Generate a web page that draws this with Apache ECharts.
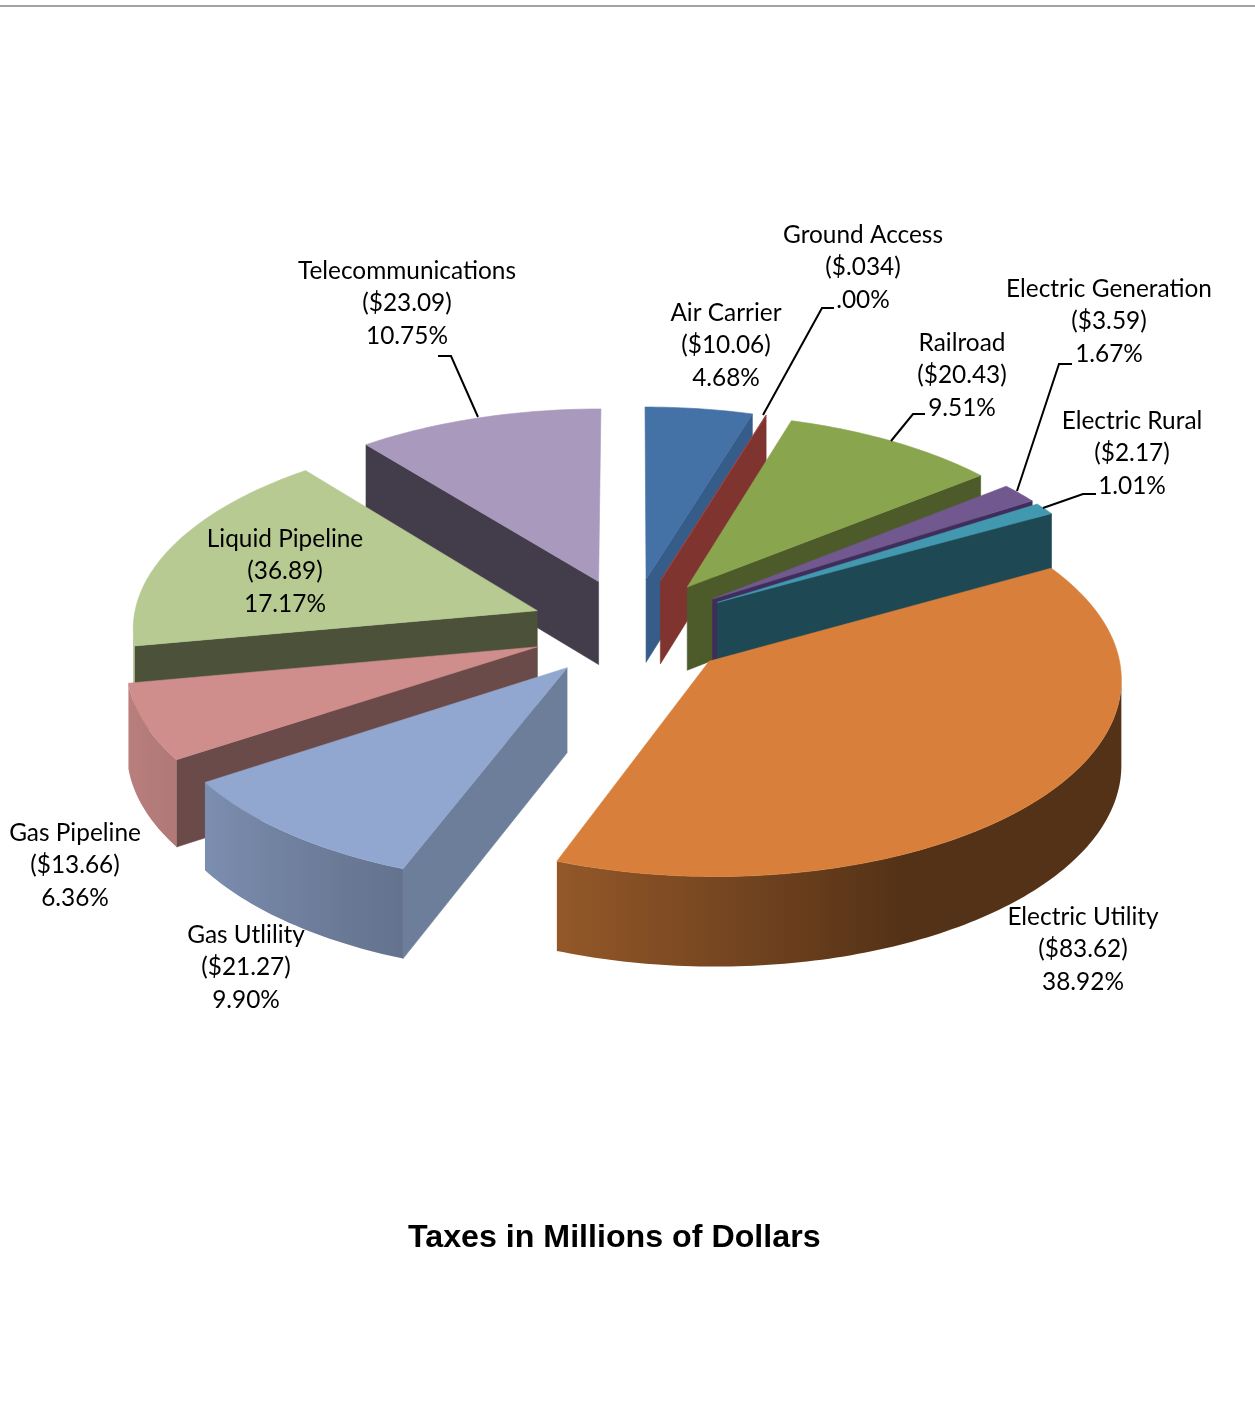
<!DOCTYPE html>
<html>
<head>
<meta charset="utf-8">
<style>html,body{margin:0;padding:0;background:#fff}#c{width:1255px;height:1406px}</style>
<script src="https://cdn.jsdelivr.net/npm/echarts@6/dist/echarts.min.js"></script>
</head>
<body>
<div id="c"></div>
<script>
// ---- data ----
const categories = ['Air Carrier','Ground Access','Railroad','Electric Generation','Electric Rural','Electric Utility','Gas Utlility','Gas Pipeline','Liquid Pipeline','Telecommunications'];
const taxes = [10.06,0.034,20.43,3.59,2.17,83.62,21.27,13.66,36.89,23.09];
const amountLabels = ['($10.06)','($.034)','($20.43)','($3.59)','($2.17)','($83.62)','($21.27)','($13.66)','(36.89)','($23.09)'];
const percentLabels = ['4.68%','.00%','9.51%','1.67%','1.01%','38.92%','9.90%','6.36%','17.17%','10.75%'];
const chartTitle = 'Taxes in Millions of Dollars';

// ---- styles ----
const topColors  = ['#4471a6','#aa4643','#89a54e','#71588f','#4198af','#d8803b','#92a7cf','#cf8e8c','#b7ca92','#a899bd'];
const wallColors = ['#365c89','#7f3430','#4d5b2a','#3f2d5c','#1e4954','#5a3518','#6d7e9b','#6b4a4a','#4c5239','#433d4b'];
const rimShadeStops = [[60,.39],[155,.39],[200,.68],[236,.85],[270,.92]];

// ---- layout ----
const view = {cx:631.5, cy:628, explodeX:.25, explodeV:.26, rx:405, ry:193, persp:.078};
const labelTops = [[726,313],[863,235],[962,343],[1109,289],[1132,421],[1083,917],[246,935],[75,833],[285,539],[407,271]];
const leaders = [
  [[438,356],[451,356],[478,417]],
  [[834,308],[822,308],[763,415]],
  [[925,414],[913,414],[891,441]],
  [[1072,364],[1059,364],[1017,491]],
  [[1096,494],[1083,494],[1043,508]]
];
const labelFont = 'Lato, "Open Sans", sans-serif';
const labelSize = 24.4;
const lineGap = 32.6;

// ---- geometry ----
const total = taxes.reduce((a,b)=>a+b,0);
const rad = d=>d*Math.PI/180;
function project(x,v){
  const p=1/(1+view.persp*v);
  return [view.cx+view.rx*x*p, view.cy-view.ry*v*p];
}
let run = 0;
const slices = taxes.map((v,i)=>{
  const a0 = run/total*360; run += v; const a1 = run/total*360;
  const mid = rad((a0+a1)/2);
  const ox = view.explodeX*Math.sin(mid), ov = view.explodeV*Math.cos(mid);
  return {i, a0, a1, ox, ov, order:-ov};
});
const drawOrder = slices.slice().sort((p,q)=>p.order-q.order);
const apexOf = s=>project(s.ox,s.ov);
const rim = (s,deg)=>project(s.ox+Math.sin(rad(deg)), s.ov+Math.cos(rad(deg)));
const depth = y=>79+(y-415)*.024;
const down = pt=>[pt[0],pt[1]+depth(pt[1])];
function shadeFactor(deg){
  const d=((deg%360)+360)%360, st=rimShadeStops;
  if(d<=st[0][0]) return st[0][1];
  for(let k=0;k<st.length-1;k++){
    if(d<st[k+1][0]) return st[k][1]+(st[k+1][1]-st[k][1])*(d-st[k][0])/(st[k+1][0]-st[k][0]);
  }
  return st[st.length-1][1];
}
function shade(hex,deg){
  const f=shadeFactor(deg), n=parseInt(hex.slice(1),16);
  return `rgb(${Math.round((n>>16&255)*f)},${Math.round((n>>8&255)*f)},${Math.round((n&255)*f)})`;
}
const poly=(points,fill,z2,stroke)=>({type:'polygon',shape:{points},z2,silent:true,
  style:{fill,stroke:stroke||fill,lineWidth:.6}});

function renderSlice(params,api){
  const s = slices[api.value(0)];
  const kids=[];
  const apex=apexOf(s);
  const n=Math.max(1,Math.ceil(s.a1-s.a0));
  const arc=[];
  for(let k=0;k<=n;k++) arc.push(s.a0+(s.a1-s.a0)*k/n);
  const pts=arc.map(a=>rim(s,a));
  if(Math.sin(rad(s.a0))<-1e-6){
    const e=pts[0];
    kids.push(poly([apex,e,down(e),down(apex)],wallColors[s.i],1));
  }
  if(Math.sin(rad(s.a1))>1e-6){
    const e=pts[n];
    kids.push(poly([apex,e,down(e),down(apex)],wallColors[s.i],1));
  }
  // outer wall: the stretch of rim that runs right-to-left faces the viewer
  const front=[], frontA=[];
  for(let k=0;k<=n;k++){
    const facing=(k<n && pts[k+1][0]<pts[k][0])||(k>0 && pts[k][0]<pts[k-1][0]);
    if(facing){front.push(pts[k]);frontA.push(arc[k]);}
  }
  if(front.length>1){
    const xs=front.map(p=>p[0]), x0=Math.min(...xs), x1=Math.max(...xs);
    const stops=front.map((p,k)=>({offset:(p[0]-x0)/(x1-x0),color:shade(topColors[s.i],frontA[k])}))
      .sort((a,b)=>a.offset-b.offset);
    const g=new echarts.graphic.LinearGradient(0,0,1,0,stops);
    kids.push({type:'polygon',shape:{points:front.concat(front.slice().reverse().map(down))},z2:2,silent:true,
      style:{fill:g}});
  }
  kids.push(poly([apex].concat(pts),topColors[s.i],3));
  return {type:'group',children:kids};
}

// ---- chart ----
const chart = echarts.init(document.getElementById('c'),null,{renderer:'canvas'});
const graphics = [
  {type:'line',shape:{x1:0,y1:6,x2:1255,y2:6},style:{stroke:'#a3a3a3',lineWidth:2},silent:true}
];
leaders.forEach(l=>graphics.push({type:'polyline',shape:{points:l},z:20,silent:true,
  style:{stroke:'#000',lineWidth:2,fill:null}}));
categories.forEach((name,i)=>{
  [name,amountLabels[i],percentLabels[i]].forEach((t,k)=>{
    graphics.push({type:'text',z:21,silent:true,x:labelTops[i][0],y:labelTops[i][1]+k*lineGap,
      style:{text:t,font:`${labelSize}px ${labelFont}`,fill:'#000',textAlign:'center',textVerticalAlign:'middle'}});
  });
});
chart.setOption({
  animation:false,
  backgroundColor:'#fff',
  title:{text:chartTitle,left:408,top:1222,padding:0,
    textStyle:{fontFamily:'"Liberation Sans", Arial, sans-serif',fontWeight:'bold',fontSize:32.2,color:'#000'}},
  tooltip:{show:false},
  graphic:graphics,
  series:[{
    type:'custom',coordinateSystem:'none',silent:true,
    renderItem:renderSlice,
    data:drawOrder.map(s=>[s.i,taxes[s.i]])
  }]
});
</script>
</body>
</html>
